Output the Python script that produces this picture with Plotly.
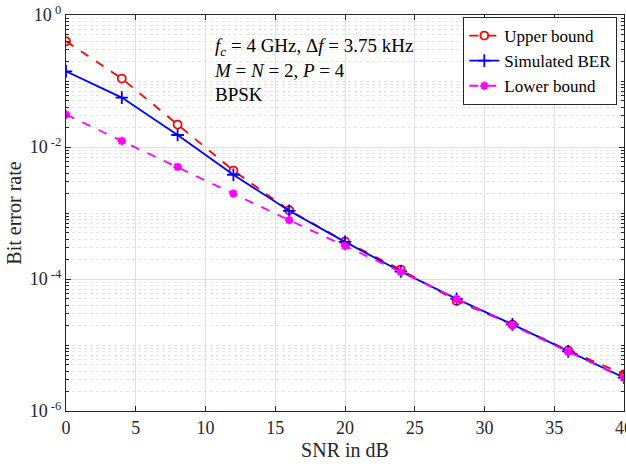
import plotly.graph_objects as go

snr = [0, 4, 8, 12, 16, 20, 24, 28, 32, 36, 40]
upper = [0.40, 0.109, 0.0219, 0.0044, 1.1e-3, 3.7e-4, 1.39e-4, 4.65e-5, 2.04e-5, 8.3e-6, 3.6e-6]
simulated = [0.14, 0.056, 0.0152, 0.0038, 1.08e-3, 3.65e-4, 1.3e-4, 5.0e-5, 2.05e-5, 8.0e-6, 3.2e-6]
lower = [0.031, 0.0123, 0.0050, 0.00197, 7.8e-4, 3.17e-4, 1.28e-4, 5.0e-5, 2.0e-5, 7.9e-6, 3.15e-6]

ytickvals = [1, 1e-2, 1e-4, 1e-6]
yticktext = ["10<sup> 0</sup>", "10<sup> -2</sup>", "10<sup> -4</sup>", "10<sup> -6</sup>"]
xtickvals = [0, 5, 10, 15, 20, 25, 30, 35, 40]

FONT = "Liberation Serif"

fig = go.Figure()
fig.add_trace(go.Scatter(
    x=snr, y=upper, name="Upper bound", mode="lines+markers",
    line=dict(color="#FF0000", width=1.8, dash="dash"),
    marker=dict(symbol="circle-open", size=8, color="#FF0000", line=dict(width=1.8, color="#FF0000")),
))
fig.add_trace(go.Scatter(
    x=snr, y=simulated, name="Simulated BER", mode="lines+markers",
    line=dict(color="#0000FF", width=1.8),
    marker=dict(symbol="cross-thin-open", size=9, color="#0000FF", line=dict(width=1.8, color="#0000FF")),
))
fig.add_trace(go.Scatter(
    x=snr, y=lower, name="Lower bound", mode="lines+markers",
    line=dict(color="#FF00FF", width=1.8, dash="dash"),
    marker=dict(symbol="asterisk-open", size=7, color="#FF00FF", line=dict(width=2.2, color="#FF00FF")),
))

fig.add_annotation(
    x=0.262, y=0.955, xref="paper", yref="paper", xanchor="left", yanchor="top",
    align="left", showarrow=False,
    text="<i>f</i><sub><i>c</i></sub> = 4 GHz, Δ<i>f</i> = 3.75 kHz<br><i>M</i> = <i>N</i> = 2, <i>P</i> = 4<br>BPSK",
    font=dict(family=FONT, size=19, color="black"),
)

axis_common = dict(
    showline=True, linecolor="#262626", linewidth=1.2, mirror="ticks",
    ticks="inside", ticklen=5, tickcolor="#262626",
    gridcolor="#DFDFDF", gridwidth=1, zeroline=False, automargin=False,
    tickfont=dict(family=FONT, size=18, color="#262626"),
)

fig.update_layout(
    width=626, height=468,
    margin=dict(l=66, r=2, t=15, b=57),
    paper_bgcolor="white", plot_bgcolor="white",
    font=dict(family=FONT, size=18, color="#262626"),
    showlegend=True,
    legend=dict(
        x=0.988, y=0.995, xanchor="right", yanchor="top",
        bgcolor="white", bordercolor="#262626", borderwidth=1,
        font=dict(family=FONT, size=17, color="black"),
        tracegroupgap=0, itemwidth=30,
    ),
    xaxis=dict(
        axis_common, range=[0, 40], tickvals=xtickvals, ticklabeloverflow="allow",
        title=dict(text="SNR in dB", font=dict(family=FONT, size=20, color="#262626"), standoff=6),
    ),
    yaxis=dict(
        axis_common, type="log", range=[-6, 0],
        tickvals=ytickvals, ticktext=yticktext,
        title=dict(text="Bit error rate", font=dict(family=FONT, size=20, color="#262626"), standoff=2),
        minor=dict(dtick="D1", showgrid=True, gridcolor="#E4E4E4", griddash="dot",
                   ticks="inside", ticklen=3, tickcolor="#262626"),
    ),
)

fig.write_html("out.html")
